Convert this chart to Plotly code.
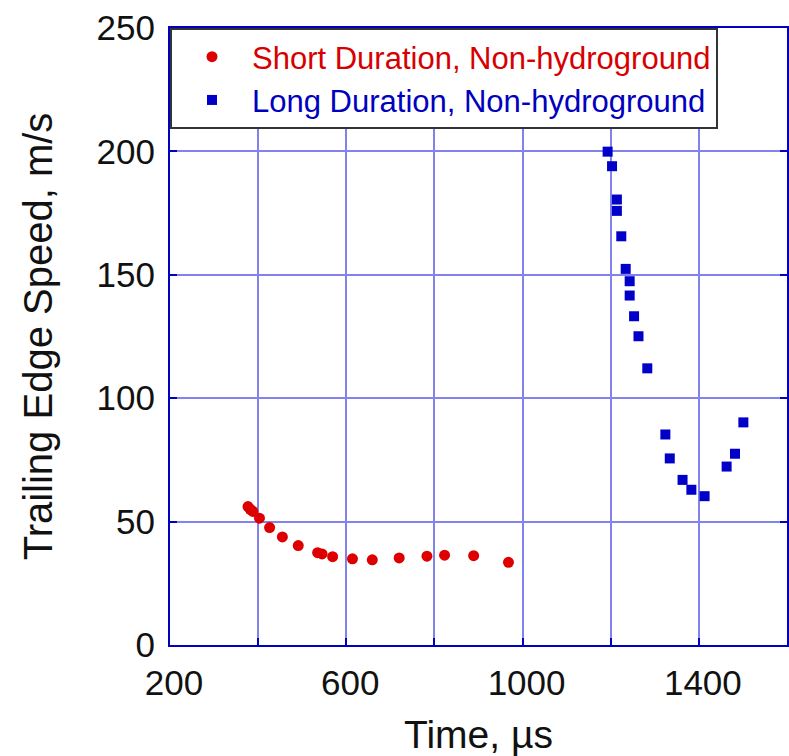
import plotly.graph_objects as go

# Short duration, non-hydroground (red circles)
short_time = [377, 382, 388, 403, 426, 455, 491, 535, 545, 569, 614, 659, 720, 783, 823, 889, 968]
short_speed = [56.1, 55.0, 54.1, 51.4, 47.6, 43.8, 40.3, 37.4, 36.9, 35.8, 34.9, 34.5, 35.3, 36.0, 36.4, 36.2, 33.5]

# Long duration, non-hydroground (blue squares)
long_time = [1193, 1203, 1214, 1214, 1224, 1234, 1243, 1243, 1253, 1263, 1283,
             1324, 1334, 1363, 1383, 1413, 1463, 1482, 1501]
long_speed = [199.9, 194.0, 180.5, 175.9, 165.6, 152.4, 147.4, 141.6, 133.2, 125.1, 112.1,
              85.3, 75.6, 66.9, 62.9, 60.3, 72.3, 77.5, 90.2]

x_tickvals = [200, 400, 600, 800, 1000, 1200, 1400, 1600]
x_ticktext = ["200", "", "600", "", "1000", "", "1400", ""]
y_tickvals = [0, 50, 100, 150, 200, 250]

RED = "rgb(222,0,0)"
BLUE = "rgb(0,0,200)"
FRAME = "rgb(0,0,190)"
GRID = "rgb(130,130,238)"

fig = go.Figure()
fig.add_trace(go.Scatter(
    x=short_time, y=short_speed, mode="markers",
    name="<span style='color:rgb(215,0,0)'>Short Duration, Non-hydroground</span>",
    marker=dict(symbol="circle", size=11, color=RED),
))
fig.add_trace(go.Scatter(
    x=long_time, y=long_speed, mode="markers",
    name="<span style='color:rgb(0,0,190)'>Long Duration, Non-hydroground</span>",
    marker=dict(symbol="square", size=10, color=BLUE),
))

axis_common = dict(
    showline=True, linecolor=FRAME, linewidth=2, mirror="ticks",
    ticks="inside", ticklen=7, tickwidth=2, tickcolor=FRAME,
    showgrid=True, gridcolor=GRID, gridwidth=2, zeroline=False,
    tickfont=dict(size=35, color="#111"),
)

fig.update_xaxes(
    range=[200, 1600], tickmode="array", tickvals=x_tickvals, ticktext=x_ticktext,
    title=dict(text="Time, µs", font=dict(size=39, color="#111"), standoff=20),
    ticklabelshift=4, ticklabelstandoff=6,
    **axis_common,
)
fig.update_yaxes(
    range=[0, 250], tickmode="array", tickvals=y_tickvals,
    title=dict(text="Trailing Edge Speed, m/s", font=dict(size=40, color="#111"), standoff=32),
    ticklabelstandoff=6,
    **axis_common,
)

fig.update_layout(
    width=789, height=756,
    margin=dict(l=170, r=0, t=28, b=111),
    paper_bgcolor="white", plot_bgcolor="white",
    font=dict(family="Liberation Sans, Arial, sans-serif", color="#111"),
    legend=dict(
        x=0, y=1, xanchor="left", yanchor="top",
        bgcolor="white", bordercolor="#333", borderwidth=2,
        font=dict(size=31),
        itemwidth=70,
        tracegroupgap=0,
    ),
    showlegend=True,
)

fig.write_html("out.html")
